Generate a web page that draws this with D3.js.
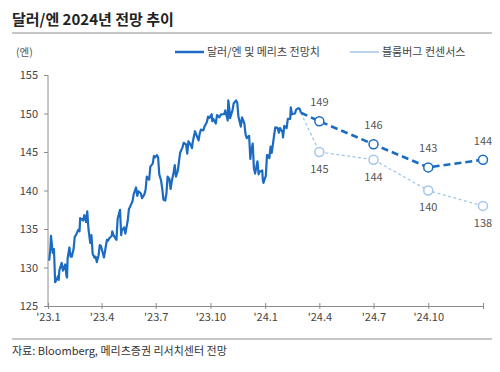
<!DOCTYPE html>
<html>
<head>
<meta charset="utf-8">
<script src="https://cdn.jsdelivr.net/npm/d3@7"></script>
<style>
  body { margin: 0; background: #fff; }
  svg { font-family: "Noto Sans CJK KR", "Noto Sans", sans-serif; }
</style>
</head>
<body>
<svg id="chart" width="500" height="372"></svg>
<script>
"use strict";

// actual USD/JPY (dates + closes)
const actualDates = [
    "2023-01-03","2023-01-05","2023-01-06","2023-01-09","2023-01-11","2023-01-13","2023-01-16","2023-01-18","2023-01-19","2023-01-20",
    "2023-01-24","2023-01-26","2023-01-30","2023-02-01","2023-02-02","2023-02-03","2023-02-06","2023-02-08","2023-02-10","2023-02-13",
    "2023-02-15","2023-02-17","2023-02-21","2023-02-23","2023-02-24","2023-02-28","2023-03-01","2023-03-03","2023-03-06","2023-03-08",
    "2023-03-09","2023-03-10","2023-03-13","2023-03-15","2023-03-17","2023-03-20","2023-03-22","2023-03-24","2023-03-27","2023-03-29",
    "2023-03-31","2023-04-04","2023-04-05","2023-04-07","2023-04-10","2023-04-12","2023-04-14","2023-04-18","2023-04-19","2023-04-21",
    "2023-04-25","2023-04-26","2023-04-28","2023-05-02","2023-05-04","2023-05-05","2023-05-09","2023-05-11","2023-05-15","2023-05-17",
    "2023-05-19","2023-05-23","2023-05-25","2023-05-29","2023-05-31","2023-06-02","2023-06-06","2023-06-08","2023-06-12","2023-06-14",
    "2023-06-16","2023-06-20","2023-06-22","2023-06-26","2023-06-28","2023-06-30","2023-07-03","2023-07-05","2023-07-07","2023-07-10",
    "2023-07-12","2023-07-14","2023-07-17","2023-07-19","2023-07-21","2023-07-24","2023-07-26","2023-07-28","2023-07-31","2023-08-02",
    "2023-08-04","2023-08-07","2023-08-09","2023-08-11","2023-08-15","2023-08-17","2023-08-21","2023-08-23","2023-08-25","2023-08-29",
    "2023-08-31","2023-09-01","2023-09-05","2023-09-07","2023-09-11","2023-09-13","2023-09-15","2023-09-19","2023-09-21","2023-09-25",
    "2023-09-27","2023-09-29","2023-10-03","2023-10-04","2023-10-06","2023-10-10","2023-10-12","2023-10-16","2023-10-18","2023-10-20",
    "2023-10-24","2023-10-26","2023-10-30","2023-10-31","2023-11-02","2023-11-03","2023-11-07","2023-11-09","2023-11-13","2023-11-15",
    "2023-11-17","2023-11-21","2023-11-23","2023-11-27","2023-11-29","2023-12-01","2023-12-05","2023-12-07","2023-12-08","2023-12-11",
    "2023-12-13","2023-12-15","2023-12-19","2023-12-21","2023-12-22","2023-12-27","2023-12-28","2023-12-29","2024-01-02","2024-01-04",
    "2024-01-05","2024-01-08","2024-01-10","2024-01-12","2024-01-16","2024-01-18","2024-01-22","2024-01-24","2024-01-26","2024-01-30",
    "2024-01-31","2024-02-02","2024-02-06","2024-02-08","2024-02-12","2024-02-13","2024-02-15","2024-02-20","2024-02-22","2024-02-26",
    "2024-02-28","2024-03-01"
];
const actualValues = [
    130.9,132.5,134.1,131.9,132.4,128.1,128.5,128.9,128.4,129.6,
    130.6,129.6,130.4,128.9,128.7,131.2,132.6,131.4,131.4,132.4,
    134.0,134.2,134.9,134.7,136.4,136.2,136.1,136.8,135.9,137.3,
    136.1,135.0,133.2,134.2,131.8,131.3,131.4,130.7,131.6,132.9,
    132.8,131.6,131.3,132.2,133.6,133.5,133.8,134.1,134.7,134.2,
    133.7,133.6,136.3,137.5,134.2,134.8,135.2,134.4,136.1,137.6,
    137.9,138.6,139.5,140.4,139.3,139.9,139.6,139.0,139.5,140.1,
    141.8,141.4,143.1,143.5,144.5,144.3,144.6,144.3,142.1,141.3,
    140.2,138.8,138.7,139.6,141.8,141.5,140.2,141.2,142.3,143.3,
    141.8,142.5,143.7,144.9,145.6,146.2,146.0,144.8,146.4,145.9,
    145.5,146.2,147.7,147.3,146.5,147.4,147.9,147.8,148.3,148.9,
    149.6,149.4,149.9,149.0,149.3,148.7,149.8,149.5,149.8,149.9,
    149.9,150.4,149.1,151.7,150.4,149.4,150.4,151.3,151.7,151.4,
    149.6,148.3,149.5,148.7,147.3,146.8,147.1,144.1,144.9,146.1,
    142.9,142.2,143.8,142.1,142.4,142.6,141.4,141.0,141.9,144.6,
    144.6,144.2,145.7,144.9,147.2,148.2,148.1,147.5,148.1,147.6,
    146.9,148.4,148.1,149.3,149.3,150.8,149.9,150.0,150.5,150.7,
    150.6,150.1
];

// forecasts (quarter starts)
const forecastDates = ["2024-04-01", "2024-07-01", "2024-10-01", "2025-01-01"];
const meritzForecast = [149, 146, 143, 144];
const bloombergConsensus = [145, 144, 140, 138];

const yTicks = [125, 130, 135, 140, 145, 150, 155];
const xTickDates = ["2023-01-01","2023-04-01","2023-07-01","2023-10-01","2024-01-01",
    "2024-04-01","2024-07-01","2024-10-01","2025-01-01"];

const darkBlue = "#1c6bc2";
const lightBlue = "#a3c6ea";
const axisGrey = "#8c8c8c";

const parse = d3.timeParse("%Y-%m-%d");

const svg = d3.select("#chart");

const x = d3.scaleTime()
    .domain([parse("2023-01-01"), parse("2025-01-01")])
    .range([48, 483]);
const y = d3.scaleLinear()
    .domain([125, 155])
    .range([306, 75]);

// title + rules
svg.append("text")
    .attr("x", 12).attr("y", 25)
    .attr("font-size", 15).attr("font-weight", "bold").attr("fill", "#222")
    .text("달러/엔 2024년 전망 추이");
svg.append("line")
    .attr("x1", 12).attr("x2", 492).attr("y1", 33).attr("y2", 33)
    .attr("stroke", "#b5b5b5").attr("stroke-width", 1.5);
svg.append("line")
    .attr("x1", 12).attr("x2", 492).attr("y1", 339).attr("y2", 339)
    .attr("stroke", "#b5b5b5").attr("stroke-width", 1.5);

svg.append("text")
    .attr("x", 16).attr("y", 56)
    .attr("font-size", 10.5).attr("fill", "#555")
    .text("(엔)");

// legend
const legend = [
    { label: "달러/엔 및 메리츠 전망치", color: darkBlue, width: 2.5, x: 175 },
    { label: "블룸버그 컨센서스", color: lightBlue, width: 1.5, x: 350 }
];
legend.forEach(function (l) {
    svg.append("line")
        .attr("x1", l.x).attr("x2", l.x + 29).attr("y1", 52).attr("y2", 52)
        .attr("stroke", l.color).attr("stroke-width", l.width);
    svg.append("text")
        .attr("x", l.x + 32).attr("y", 56)
        .attr("font-size", 11).attr("fill", "#444")
        .text(l.label);
});

// axes
const yAxis = d3.axisLeft(y).tickValues(yTicks).tickSize(4).tickPadding(6);
const yG = svg.append("g").attr("transform", "translate(48,0)").call(yAxis);
yG.select(".domain").attr("stroke", axisGrey).attr("d", "M0,75V306");
yG.selectAll(".tick line").attr("stroke", axisGrey);
yG.selectAll(".tick text").attr("font-size", 11).attr("fill", "#444")
    .attr("font-family", "\"Noto Sans CJK KR\", sans-serif");

const xAxis = d3.axisBottom(x)
    .tickValues(xTickDates.map(parse))
    .tickSize(0)
    .tickFormat(function (d, i) {
        return i === xTickDates.length - 1 ? "" : "'" + d3.timeFormat("%y")(d) + "." + (d.getMonth() + 1);
    });
const xG = svg.append("g").attr("transform", "translate(0,306)").call(xAxis);
xG.select(".domain").attr("stroke", axisGrey);
xG.selectAll(".tick text").attr("font-size", 11).attr("fill", "#444").attr("dy", "1.1em")
    .attr("font-family", "\"Noto Sans CJK KR\", sans-serif");
xG.selectAll(".tick").append("line")
    .attr("y1", -3).attr("y2", 3).attr("stroke", axisGrey);

// series
const actual = actualDates.map(function (d, i) { return { date: parse(d), value: actualValues[i] }; });
const last = actual[actual.length - 1];
const meritz = [last].concat(forecastDates.map(function (d, i) { return { date: parse(d), value: meritzForecast[i] }; }));
const bloomberg = [last].concat(forecastDates.map(function (d, i) { return { date: parse(d), value: bloombergConsensus[i] }; }));

const line = d3.line()
    .x(function (d) { return x(d.date); })
    .y(function (d) { return y(d.value); });

svg.append("path").datum(bloomberg)
    .attr("fill", "none").attr("stroke", lightBlue).attr("stroke-width", 1.3)
    .attr("stroke-dasharray", "3,2.5").attr("d", line);
svg.append("path").datum(meritz)
    .attr("fill", "none").attr("stroke", darkBlue).attr("stroke-width", 2.6)
    .attr("stroke-dasharray", "7,4").attr("d", line);
svg.append("path").datum(actual)
    .attr("fill", "none").attr("stroke", darkBlue).attr("stroke-width", 2.2)
    .attr("stroke-linejoin", "round").attr("d", line);

function drawPoints(data, color, offset) {
    const pts = data.slice(1);
    svg.selectAll(null).data(pts).enter().append("circle")
        .attr("cx", function (d) { return x(d.date); })
        .attr("cy", function (d) { return y(d.value); })
        .attr("r", 4.5)
        .attr("fill", "#fff").attr("stroke", color).attr("stroke-width", 1.5);
    svg.selectAll(null).data(pts).enter().append("text")
        .attr("x", function (d) { return x(d.date); })
        .attr("y", function (d) { return y(d.value) + offset; })
        .attr("text-anchor", "middle").attr("dominant-baseline", "middle")
        .attr("font-size", 11).attr("fill", "#555")
        .text(function (d) { return d.value; });
}
drawPoints(bloomberg, lightBlue, 18);
drawPoints(meritz, darkBlue, -18);

// source
svg.append("text")
    .attr("x", 12).attr("y", 355)
    .attr("font-size", 11).attr("fill", "#333")
    .text("자료: Bloomberg, 메리츠증권 리서치센터 전망");
</script>
</body>
</html>
